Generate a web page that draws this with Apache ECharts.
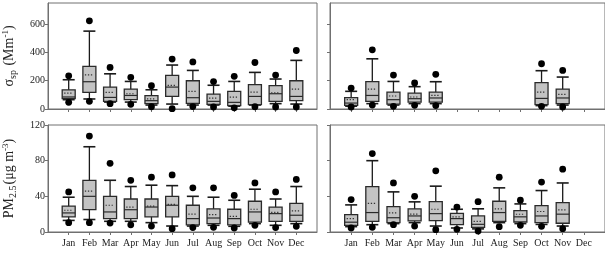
<!DOCTYPE html>
<html>
<head>
<meta charset="utf-8">
<script src="https://cdn.jsdelivr.net/npm/echarts@6/dist/echarts.min.js"></script>
<style>html,body{margin:0;padding:0;background:#fff;}#c{width:605px;height:254px;}</style>
</head>
<body>
<div id="c"></div>
<script>
// Month names
const months = ['Jan','Feb','Mar','Apr','May','Jun','Jul','Aug','Sep','Oct','Nov','Dec'];
const monthIdx = [1,2,3,4,5,6,7,8,9,10,11,12];
// rows: [month, dotLow, capLow, q1, median, q3, capHigh, dotHigh, mean]
const sspLeft = [
  [1, 47, 66, 73, 85, 136, 207, 235, 113],
  [2, 54, 71, 118, 193, 301, 551, 624, 242],
  [3, 38, 49, 54, 82, 155, 249, 294, 118],
  [4, 33, 49, 66, 96, 141, 195, 224, 108],
  [5, 16, 28, 38, 59, 94, 136, 165, 71],
  [6, 2, 35, 89, 155, 238, 311, 353, 167],
  [7, 17, 28, 40, 80, 200, 273, 333, 125],
  [8, 14, 28, 33, 54, 105, 168, 194, 77],
  [9, 8, 20, 24, 47, 124, 195, 231, 84],
  [10, 16, 28, 31, 89, 172, 259, 329, 120],
  [11, 14, 38, 54, 108, 165, 212, 240, 115],
  [12, 14, 35, 59, 89, 200, 344, 414, 141]
];
const sspRight = [
  [1, 14, 20, 26, 42, 80, 125, 148, 66],
  [2, 28, 38, 54, 96, 193, 355, 419, 141],
  [3, 19, 28, 35, 66, 120, 195, 240, 92],
  [4, 26, 38, 49, 73, 113, 158, 184, 85],
  [5, 24, 38, 49, 78, 120, 193, 245, 96],
  [10, 19, 24, 31, 75, 186, 271, 320, 120],
  [11, 14, 28, 38, 78, 141, 226, 273, 104]
];
const pmLeft = [
  [1, 10.5, 13, 17, 21.4, 29, 39, 45, 24.4],
  [2, 10.5, 14, 25, 40, 58, 95.6, 107.6, 45.8],
  [3, 10, 12, 15, 22.5, 40, 58, 77, 30],
  [4, 8, 12, 15, 25, 37, 51, 58, 28],
  [5, 6.7, 10.5, 17, 28, 37, 52.5, 61.5, 29],
  [6, 3.7, 6.7, 17, 30, 40, 52, 64, 31],
  [7, 5, 6.7, 8, 15, 30, 40, 49.5, 20],
  [8, 5.2, 7.5, 9.4, 15.7, 26, 39, 49.5, 19.5],
  [9, 4.5, 6.4, 8, 15, 25.5, 35.6, 41, 17.6],
  [10, 7.5, 9.4, 11, 22.5, 34.5, 48, 55, 25.5],
  [11, 5, 7.5, 12, 20.6, 28, 37, 45, 22],
  [12, 6.4, 9.4, 12, 18.8, 32, 51, 59, 23.6]
];
const pmRight = [
  [1, 4.5, 6, 7.5, 11, 19.5, 30.4, 36.4, 15],
  [2, 5.2, 8.2, 12, 21.8, 51, 80, 88, 32],
  [3, 8.2, 9.4, 10.5, 16, 28.5, 45, 55, 21.4],
  [4, 6.7, 10.5, 12.4, 18, 26, 33.8, 40, 20],
  [5, 2.6, 6.7, 12.8, 20.6, 34, 51.4, 68.6, 25.5],
  [6, 3, 4.5, 8.2, 15, 21, 25.5, 28, 17],
  [7, 1, 3.5, 5.2, 8.6, 18, 26, 34, 12],
  [8, 6, 10.5, 12, 21.8, 34.5, 49.5, 61.5, 26],
  [9, 7.5, 9.4, 11.2, 17, 24, 31.5, 35.6, 19.9],
  [10, 6.4, 8.5, 10.5, 18, 29.6, 46.5, 56, 23],
  [11, 3.7, 6.7, 9.8, 20, 33, 55, 70.5, 24.8]
];
const sspTicks = [0, 200, 400, 600];
const pmTicks = [0, 40, 80, 120];

const FONT = 'Liberation Serif';
const AX = '#707070';

function renderBox(params, api) {
  const x = api.value(0);
  const v = [1,2,3,4,5,6,7,8].map(i => api.value(i));
  const [dLo, cLo, q1, med, q3, cHi, dHi, mean] = v;
  const P = val => api.coord([x, val]);
  const cx = P(0)[0];
  const hw = 6.5, cw = 6;
  const y = val => P(val)[1];
  const stroke = {stroke: '#1a1a1a', lineWidth: 1.3};
  return {
    type: 'group',
    children: [
      {type: 'line', shape: {x1: cx, y1: y(cLo), x2: cx, y2: y(cHi)}, style: stroke},
      {type: 'line', shape: {x1: cx - cw, y1: y(cLo), x2: cx + cw, y2: y(cLo)}, style: {stroke: '#1a1a1a', lineWidth: 1.6}},
      {type: 'line', shape: {x1: cx - cw, y1: y(cHi), x2: cx + cw, y2: y(cHi)}, style: {stroke: '#1a1a1a', lineWidth: 1.6}},
      {type: 'rect', shape: {x: cx - hw, y: y(q3), width: 2 * hw, height: y(q1) - y(q3)},
        style: {fill: '#c3c3c3', stroke: '#2a2a2a', lineWidth: 1.3}},
      {type: 'line', shape: {x1: cx - hw, y1: y(med), x2: cx + hw, y2: y(med)}, style: {stroke: '#2a2a2a', lineWidth: 1.2}},
      {type: 'line', shape: {x1: cx - hw + 2, y1: y(mean), x2: cx + hw - 2, y2: y(mean)},
        style: {stroke: '#333', lineWidth: 1.2, lineDash: [1.3, 1.7]}},
      {type: 'circle', shape: {cx: cx, cy: y(dHi), r: 3.4}, style: {fill: '#000'}},
      {type: 'circle', shape: {cx: cx, cy: y(dLo), r: 3.4}, style: {fill: '#000'}}
    ]
  };
}

const grids = [
  {left: 40, top: 3, width: 277, height: 106, show: true, borderColor: AX, borderWidth: 1},
  {left: 330, top: 3, width: 277, height: 106, show: true, borderColor: AX, borderWidth: 1},
  {left: 40, top: 125, width: 277, height: 107, show: true, borderColor: AX, borderWidth: 1},
  {left: 330, top: 125, width: 277, height: 107, show: true, borderColor: AX, borderWidth: 1}
];

function xAxisFor(i, showLabel) {
  return {
    type: 'value', gridIndex: i, min: 0, max: 13, interval: 1,
    splitLine: {show: false},
    axisLine: {show: true, lineStyle: {color: AX, width: 1}},
    axisTick: {show: true, length: 3, customValues: monthIdx, lineStyle: {color: AX}},
    axisLabel: {show: showLabel, customValues: monthIdx, formatter: v => months[v - 1] || '',
      fontFamily: FONT, fontSize: 10, color: '#222', margin: 6}
  };
}

const richName = {
  a: {fontFamily: FONT, fontSize: 14, color: '#222', lineHeight: 17},
  s: {fontFamily: FONT, fontSize: 10, color: '#222', verticalAlign: 'bottom', lineHeight: 17, padding: [5, 1, 0, 0]},
  p: {fontFamily: FONT, fontSize: 9, color: '#222', verticalAlign: 'top', lineHeight: 17, padding: [0, 0, 6, 0]}
};

function yAxisFor(i, max, ticks, showLabel, name) {
  return {
    type: 'value', gridIndex: i, min: 0, max: max,
    splitLine: {show: false},
    axisLine: {show: true, lineStyle: {color: AX, width: 1}},
    axisTick: {show: true, length: 3, customValues: ticks, lineStyle: {color: AX}},
    axisLabel: {show: showLabel, customValues: ticks, fontFamily: FONT, fontSize: 10, color: '#222', margin: 3},
    name: name || '',
    nameLocation: 'middle', nameGap: 30, nameRotate: 90,
    nameTextStyle: {fontFamily: FONT, fontSize: 14, color: '#222', rich: richName}
  };
}

const chart = echarts.init(document.getElementById('c'), null, {renderer: 'canvas'});
chart.setOption({
  animation: false,
  backgroundColor: '#fff',
  grid: grids,
  xAxis: [xAxisFor(0, false), xAxisFor(1, false), xAxisFor(2, true), xAxisFor(3, true)],
  yAxis: [
    yAxisFor(0, 750, sspTicks, true, '{a|σ}{s|sp}{a| (Mm}{p|-1}{a|)}'),
    yAxisFor(1, 750, sspTicks, false),
    yAxisFor(2, 120, pmTicks, true, '{a|PM}{s|2.5}{a|(μg m}{p|-3}{a|)}'),
    yAxisFor(3, 120, pmTicks, false)
  ],
  series: [
    {type: 'custom', xAxisIndex: 0, yAxisIndex: 0, renderItem: renderBox, data: sspLeft, clip: false},
    {type: 'custom', xAxisIndex: 1, yAxisIndex: 1, renderItem: renderBox, data: sspRight, clip: false},
    {type: 'custom', xAxisIndex: 2, yAxisIndex: 2, renderItem: renderBox, data: pmLeft, clip: false},
    {type: 'custom', xAxisIndex: 3, yAxisIndex: 3, renderItem: renderBox, data: pmRight, clip: false}
  ]
});
</script>
</body>
</html>
